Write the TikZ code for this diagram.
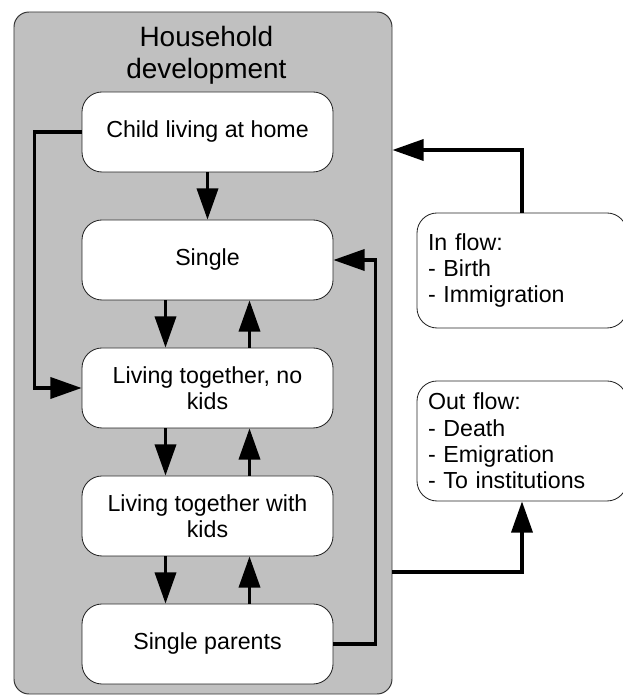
\documentclass[tikz,border=0pt]{standalone}
\usepackage{fontspec}
\setmainfont{Liberation Sans}
\usetikzlibrary{arrows.meta}
\definecolor{grigio}{RGB}{192,192,192}
\tikzset{
  pannello/.style={draw=black!80, fill=grigio, rounded corners=0.375cm, line width=0.7pt, minimum width=9.45cm, minimum height=17.05cm, inner sep=0pt},
  titolo/.style={align=center, inner sep=0pt, font=\fontsize{19.9}{22.7}\selectfont},
  stato/.style={draw=black!85, fill=white, rounded corners=0.5cm, line width=0.6pt, minimum width=6.275cm, minimum height=2cm, inner sep=0pt, align=center, font=\fontsize{16.5}{18.4}\selectfont},
  flusso/.style={draw=black!85, fill=white, rounded corners=0.5cm, line width=0.6pt, text width=4.7cm, inner xsep=0.275cm, inner ysep=0pt, align=left, font=\fontsize{16.5}{18.8}\selectfont},
  freccia/.style={line width=2.2pt, -{Triangle[length=0.78cm,width=0.53cm]}},
}
\begin{document}
\begin{tikzpicture}
\useasboundingbox (0,0) rectangle (15.55,17.4);

% Area grigia
\node[pannello] (household) at (5.075,8.575) {};
\node[titolo, anchor=north] (titolo) at (5.16,16.76) {Household\\development};

% Stati
\node[stato] (casa) at (5.1875,14.1) {Child living at home};
\node[stato] (single) at (5.1875,10.9) {Single};
\node[stato] (coppia) at (5.1875,7.7) {Living together, no\\kids};
\node[stato] (famiglia) at (5.1875,4.5) {Living together with\\kids};
\node[stato] (genitori) at (5.1875,1.3) {Single parents};

% Flussi
\node[flusso, minimum height=2.875cm] (inflow) at (13.05,10.6375) {In flow:\\- Birth\\- Immigration};
\node[flusso, minimum height=3cm] (outflow) at (13.05,6.375) {Out flow:\\- Death\\- Emigration\\- To institutions};

% Frecce interne
\draw[freccia] (casa) -- (single);
\draw[freccia] ([xshift=-1.05cm]single.south) -- ([xshift=-1.05cm]coppia.north);
\draw[freccia] ([xshift=1.05cm]coppia.north) -- ([xshift=1.05cm]single.south);
\draw[freccia] ([xshift=-1.05cm]coppia.south) -- ([xshift=-1.05cm]famiglia.north);
\draw[freccia] ([xshift=1.05cm]famiglia.north) -- ([xshift=1.05cm]coppia.south);
\draw[freccia] ([xshift=-1.05cm]famiglia.south) -- ([xshift=-1.05cm]genitori.north);
\draw[freccia] ([xshift=1.05cm]genitori.north) -- ([xshift=1.05cm]famiglia.south);

% Frecce laterali
\draw[freccia] (casa.west) -- ++(-1.175,0) |- (coppia.west);
\draw[freccia] (genitori.east) -- ++(1.05,0) |- (single.east);

% Entrata e uscita
\coordinate (ingresso) at (household.east |- 0,13.65);
\coordinate (uscita) at (household.east |- 0,3.1);
\draw[freccia] (inflow.north) |- (ingresso);
\draw[freccia] (uscita) -| (outflow.south);
\end{tikzpicture}
\end{document}
